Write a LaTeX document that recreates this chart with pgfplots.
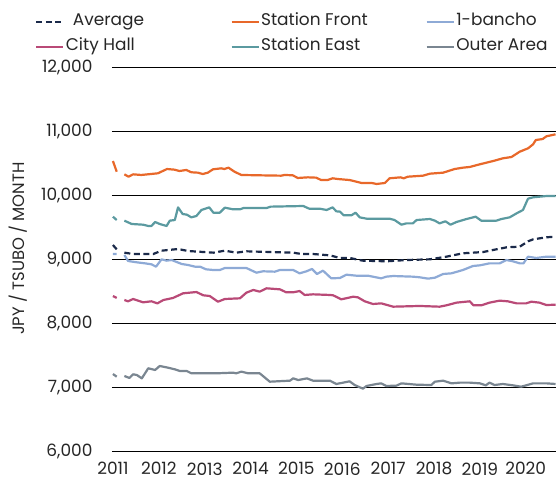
\documentclass[border=0pt]{standalone}
\usepackage{fontspec}
\setmainfont{Poppins}
\usepackage{pgfplots}
\pgfplotsset{compat=1.18}
\definecolor{cavg}{HTML}{1B2A4A}
\definecolor{cfront}{HTML}{E8682A}
\definecolor{cbancho}{HTML}{8EAAD6}
\definecolor{chall}{HTML}{B94A77}
\definecolor{ceast}{HTML}{5B9AA0}
\definecolor{couter}{HTML}{7A8691}
\newcommand{\legtxt}[1]{\makebox[166bp][l]{\hspace{1.5bp}#1}}
\begin{document}
\begin{tikzpicture}
\begin{axis}[
  scale only axis, width=444bp, height=384bp,
  xmin=2010.98, xmax=2020.66, ymin=6000, ymax=12000,
  ytick={6000,7000,8000,9000,10000,11000,12000},
  xtick={2011,2012,2013,2014,2015,2016,2017,2018,2019,2020},
  xticklabel={\pgfmathprintnumber[precision=0,1000 sep={}]{\tick}},
  scaled y ticks=false,
  /pgf/number format/.cd, 1000 sep={,}, assume math mode=true,
  /pgfplots/.cd,
  axis line style={draw=none},
  major tick length=0pt,
  ymajorgrids, grid style={black, line width=0.9bp},
  ticklabel style={font=\fontsize{17}{19}\selectfont, text=black!85},
  yticklabel style={xshift=-16bp},
  xticklabel style={yshift=-8bp},
  ylabel={JPY / TSUBO / MONTH},
  every axis y label/.style={at={(rel axis cs:-0.2106,0.527)}, rotate=90, anchor=center},
  ylabel style={font=\fontsize{16.5}{18}\selectfont, text=black!85},
  unbounded coords=jump,
  every axis plot/.append style={line width=2.2bp, line join=round},
  legend columns=3,
  legend cell align=left,
  legend image code/.code={\draw[#1] (0bp,0bp) -- (27bp,0bp);},
  legend style={draw=none, fill=none, at={(-0.1734,1.1393)}, anchor=north west,
    font=\fontsize{17}{19}\selectfont, text=black!85,
    nodes={inner xsep=0pt, inner ysep=0pt, text height=12bp, text depth=4bp},
    row sep=9bp, inner sep=0pt,
    /tikz/every even column/.append style={column sep=0pt},
    /tikz/every odd column/.append style={column sep=0pt},
    cells={anchor=west}},
]
\coordinate (bl) at (rel axis cs:0,0);
\coordinate (tr) at (rel axis cs:1,1);
% Average
\addplot[cavg, dash pattern=on 6bp off 3.5bp] coordinates {
(2011.0,9219)(2011.083,9151)(2011.167,nan)(2011.25,9099)(2011.44,9078)(2011.88,9078)(2012.06,9130)(2012.42,9156)(2012.64,9125)(2013.19,9099)(2013.44,9130)(2013.69,9099)(2013.91,9120)(2014.93,9099)(2015.11,9078)(2015.36,9078)(2015.73,9057)(2015.95,9016)(2016.16,9016)(2016.45,8974)(2016.96,8964)(2017.40,8984)(2017.91,8995)(2018.27,9036)(2018.63,9089)(2019.07,9109)(2019.36,9151)(2019.58,9182)(2019.87,9193)(2020.05,9276)(2020.16,9307)(2020.45,9339)(2020.65,9349)
};
\addlegendentry{\legtxt{\hspace{7bp}Average}}
% Station Front
\addplot[cfront] coordinates {
(2011.0,10531)(2011.083,10364)(2011.167,nan)(2011.25,10323)(2011.34,10286)(2011.44,10323)(2011.62,10313)(2011.98,10339)(2012.18,10406)(2012.34,10396)(2012.45,10375)(2012.60,10391)(2012.71,10355)(2012.85,10349)(2012.96,10328)(2013.07,10349)(2013.18,10401)(2013.36,10417)(2013.43,10406)(2013.52,10427)(2013.65,10364)(2013.80,10313)(2014.16,10308)(2014.67,10302)(2014.74,10313)(2014.92,10308)(2015.03,10266)(2015.25,10276)(2015.43,10271)(2015.54,10234)(2015.68,10234)(2015.79,10261)(2015.90,10250)(2016.16,10234)(2016.42,10188)(2016.64,10188)(2016.75,10172)(2016.93,10188)(2017.03,10261)(2017.27,10276)(2017.34,10261)(2017.43,10286)(2017.76,10302)(2017.91,10333)(2018.20,10349)(2018.45,10406)(2018.63,10427)(2018.78,10438)(2019.00,10480)(2019.29,10531)(2019.50,10573)(2019.69,10594)(2019.87,10677)(2020.05,10729)(2020.16,10792)(2020.22,10859)(2020.37,10875)(2020.45,10917)(2020.65,10948)
};
\addlegendentry{\legtxt{Station Front}}
% 1-bancho
\addplot[cbancho] coordinates {
(2011.0,9078)(2011.083,9078)(2011.167,nan)(2011.25,9063)(2011.33,8969)(2011.52,8948)(2011.70,8932)(2011.84,8917)(2011.94,8880)(2012.06,8995)(2012.17,8974)(2012.28,8984)(2012.50,8922)(2012.64,8906)(2012.79,8880)(2012.90,8880)(2013.03,8839)(2013.19,8828)(2013.33,8828)(2013.44,8859)(2013.91,8859)(2014.13,8786)(2014.27,8808)(2014.53,8802)(2014.64,8828)(2014.93,8828)(2015.07,8776)(2015.22,8808)(2015.34,8844)(2015.45,8766)(2015.58,8818)(2015.76,8698)(2015.95,8703)(2016.09,8755)(2016.31,8739)(2016.56,8739)(2016.85,8698)(2016.96,8724)(2017.11,8734)(2017.54,8724)(2017.69,8714)(2017.87,8693)(2018.02,8708)(2018.20,8766)(2018.38,8776)(2018.63,8828)(2018.85,8891)(2019.00,8901)(2019.21,8932)(2019.43,8932)(2019.58,8984)(2019.72,8964)(2019.87,8932)(2019.95,8932)(2020.05,9036)(2020.23,9016)(2020.45,9036)(2020.65,9036)
};
\addlegendentry{\hspace{1.5bp}1-bancho}
% City Hall
\addplot[chall] coordinates {
(2011.0,8422)(2011.083,8391)(2011.167,nan)(2011.25,8359)(2011.33,8339)(2011.44,8375)(2011.66,8323)(2011.84,8339)(2011.97,8307)(2012.10,8359)(2012.31,8391)(2012.53,8464)(2012.82,8484)(2012.97,8433)(2013.11,8422)(2013.29,8333)(2013.44,8375)(2013.77,8386)(2013.91,8474)(2014.06,8516)(2014.20,8490)(2014.35,8542)(2014.64,8526)(2014.78,8479)(2014.93,8479)(2015.07,8500)(2015.18,8438)(2015.36,8448)(2015.73,8438)(2015.80,8433)(2015.98,8370)(2016.24,8411)(2016.34,8401)(2016.49,8339)(2016.67,8297)(2016.85,8307)(2017.11,8255)(2017.69,8266)(2018.12,8255)(2018.27,8276)(2018.49,8318)(2018.78,8339)(2018.86,8276)(2019.03,8276)(2019.21,8318)(2019.43,8349)(2019.61,8339)(2019.80,8307)(2020.01,8307)(2020.12,8333)(2020.30,8318)(2020.45,8281)(2020.65,8286)
};
\addlegendentry{\legtxt{City Hall}}
% Station East
\addplot[ceast] coordinates {
(2011.0,9661)(2011.083,9609)(2011.167,nan)(2011.25,9599)(2011.41,9547)(2011.66,9536)(2011.77,9516)(2011.84,9516)(2011.92,9578)(2012.02,9547)(2012.17,9516)(2012.24,9599)(2012.35,9609)(2012.42,9807)(2012.52,9703)(2012.61,9693)(2012.71,9651)(2012.82,9672)(2012.93,9766)(2013.10,9807)(2013.19,9724)(2013.33,9724)(2013.44,9802)(2013.62,9776)(2013.77,9776)(2013.85,9797)(2014.35,9797)(2014.44,9818)(2015.15,9828)(2015.28,9786)(2015.51,9786)(2015.66,9766)(2015.79,9807)(2015.87,9745)(2015.95,9740)(2016.03,9683)(2016.20,9683)(2016.29,9724)(2016.38,9651)(2016.53,9630)(2017.03,9630)(2017.14,9609)(2017.29,9536)(2017.40,9557)(2017.54,9557)(2017.62,9609)(2017.91,9625)(2018.02,9599)(2018.12,9557)(2018.25,9589)(2018.36,9536)(2018.49,9578)(2018.71,9625)(2018.91,9661)(2019.03,9599)(2019.36,9599)(2019.47,9625)(2019.65,9651)(2019.80,9713)(2019.94,9766)(2020.05,9943)(2020.16,9964)(2020.45,9984)(2020.65,9984)
};
\addlegendentry{\legtxt{Station East}}
% Outer Area
\addplot[couter] coordinates {
(2011.0,7203)(2011.083,7161)(2011.167,nan)(2011.25,7172)(2011.36,7141)(2011.44,7198)(2011.52,7188)(2011.63,7135)(2011.77,7292)(2011.92,7266)(2012.02,7328)(2012.17,7307)(2012.35,7276)(2012.46,7250)(2012.61,7250)(2012.71,7214)(2013.26,7214)(2013.62,7224)(2013.69,7214)(2013.80,7240)(2013.95,7214)(2014.20,7214)(2014.42,7083)(2014.86,7099)(2014.93,7135)(2015.04,7109)(2015.23,7135)(2015.36,7099)(2015.73,7099)(2015.87,7047)(2016.02,7068)(2016.16,7089)(2016.27,7031)(2016.45,6974)(2016.53,7016)(2016.75,7047)(2016.85,7057)(2016.96,7016)(2017.18,7021)(2017.29,7057)(2017.62,7036)(2017.94,7031)(2018.02,7083)(2018.20,7099)(2018.38,7057)(2018.56,7068)(2018.78,7068)(2019.00,7057)(2019.13,7026)(2019.21,7068)(2019.32,7031)(2019.50,7047)(2019.72,7026)(2019.90,7005)(2020.01,7026)(2020.16,7057)(2020.45,7057)(2020.65,7047)
};
\addlegendentry{\hspace{1.5bp}Outer Area}
\end{axis}
\pgfresetboundingbox
\path ([xshift=-112bp,yshift=-30bp]bl) rectangle ([yshift=67bp]tr);
\end{tikzpicture}
\end{document}
